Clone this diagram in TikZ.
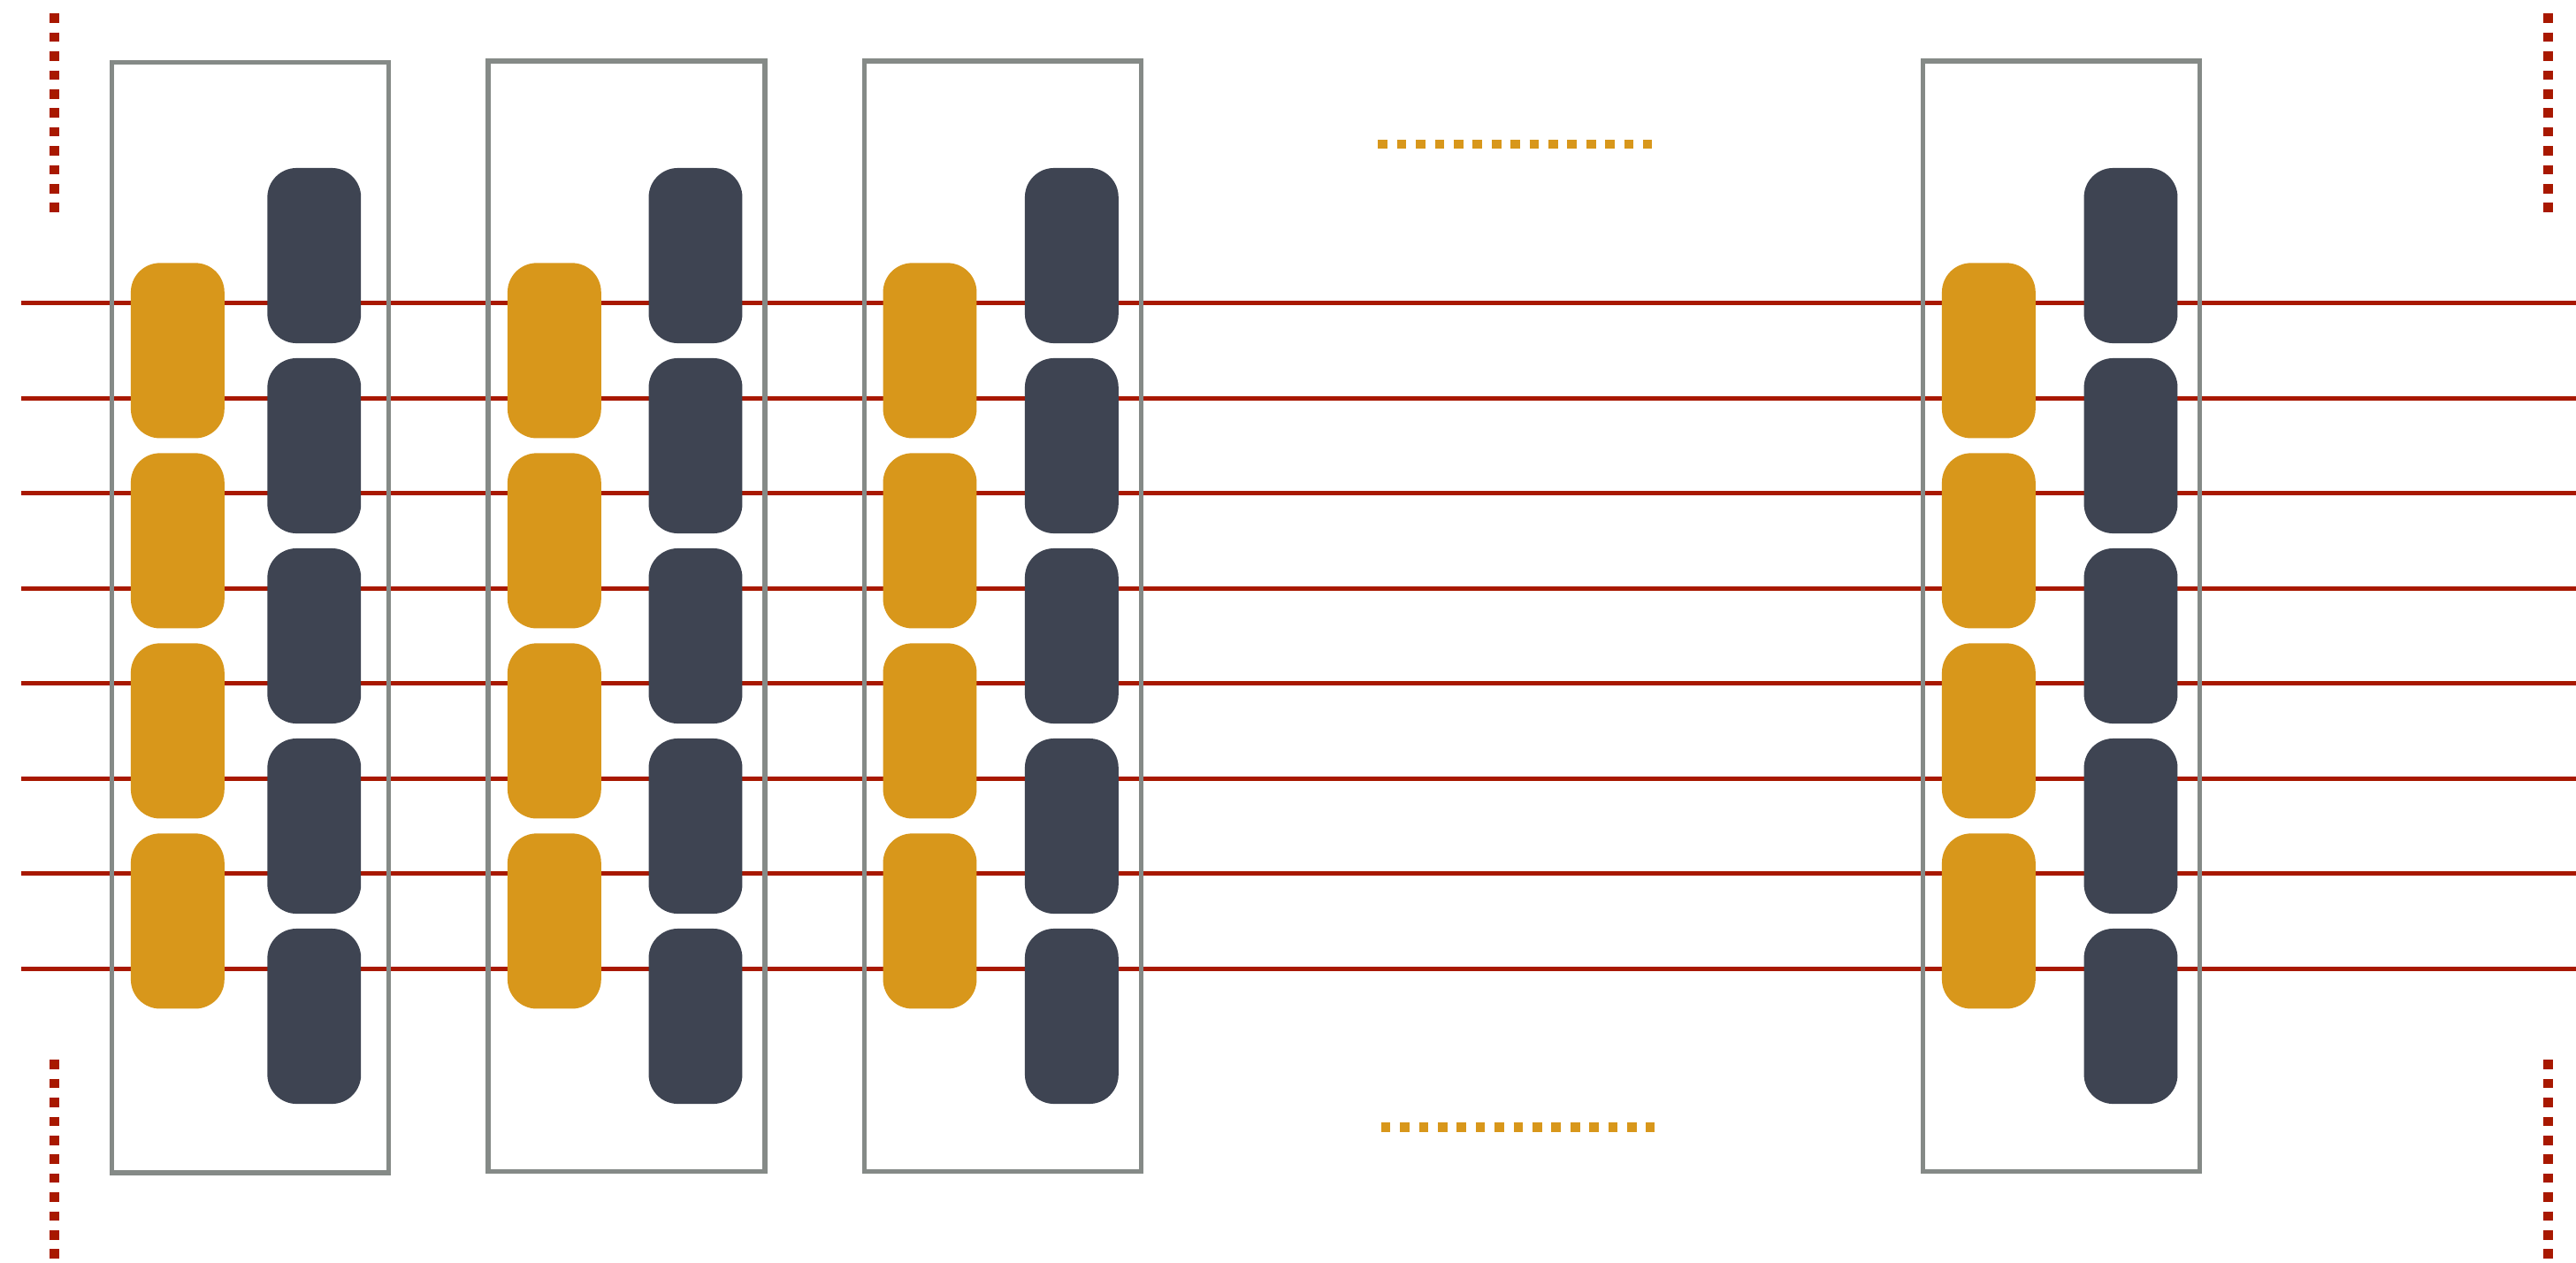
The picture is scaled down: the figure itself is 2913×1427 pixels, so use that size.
\documentclass[tikz,border=0pt]{standalone}
\definecolor{wire}{RGB}{168,24,0}
\definecolor{gold}{RGB}{216,151,27}
\definecolor{slate}{RGB}{62,68,82}
\definecolor{framegray}{RGB}{133,138,135}
\begin{document}
\begin{tikzpicture}[x=0.01cm,y=-0.01cm,
  wireline/.style={draw=wire, line width=0.053cm},
  framebox/.style={draw=framegray, line width=0.053cm, fill=none, inner sep=0pt,
    minimum width=3.128cm, minimum height=12.545cm},
  blk/.style={rounded corners=0.33cm, inner sep=0pt, draw=none,
    minimum width=1.058cm, minimum height=1.98cm},
  goldblk/.style={blk, fill=gold},
  slateblk/.style={blk, fill=slate},
  reddots/.style={draw=wire, line width=0.107cm, dash pattern=on 0.107cm off 0.107cm},
  golddots/.style={draw=gold, line width=0.107cm, dash pattern=on 0.107cm off 0.107cm}]
\useasboundingbox (0,0) rectangle (2913,1427);
% horizontal wires
\foreach \k in {0,...,7}{
  \coordinate (wl\k) at (23.7,{342.7+107.5*\k});
  \coordinate (wr\k) at (2913,{342.7+107.5*\k});
  \draw[wireline] (wl\k) -- (wr\k);
}
% frames
\node[framebox] (f1) at (283,698.3) {};
\node[framebox] (f2) at (708.4,696.75) {};
\node[framebox] (f3) at (1133.75,696.75) {};
\node[framebox] (f4) at (2331.1,696.75) {};
% blocks
\foreach \i/\gx/\sx in {1/200.85/355.3, 2/626.85/786.5, 3/1051.5/1211.85, 4/2248.85/2409.5}{
  \foreach \k in {0,...,4}{
    \node[slateblk] (s\i\k) at (\sx,{289+215*\k}) {};
  }
  \foreach \k in {0,...,3}{
    \node[goldblk] (g\i\k) at (\gx,{396.4+215*\k}) {};
  }
}
% red dotted verticals
\coordinate (lt1) at (61.3,15.3);   \coordinate (lt2) at (61.3,240);
\coordinate (lb1) at (61.3,1198.3); \coordinate (lb2) at (61.3,1423);
\coordinate (rt1) at (2881.3,15.3);   \coordinate (rt2) at (2881.3,240);
\coordinate (rb1) at (2881.3,1198.3); \coordinate (rb2) at (2881.3,1423);
\draw[reddots] (lt1) -- (lt2);
\draw[reddots] (lb1) -- (lb2);
\draw[reddots] (rt1) -- (rt2);
\draw[reddots] (rb1) -- (rb2);
% gold dotted horizontals
\coordinate (gt1) at (1558.3,163);   \coordinate (gt2) at (1868,163);
\coordinate (gb1) at (1561.7,1274.7); \coordinate (gb2) at (1871.4,1274.7);
\draw[golddots] (gt1) -- (gt2);
\draw[golddots] (gb1) -- (gb2);
\end{tikzpicture}
\end{document}
